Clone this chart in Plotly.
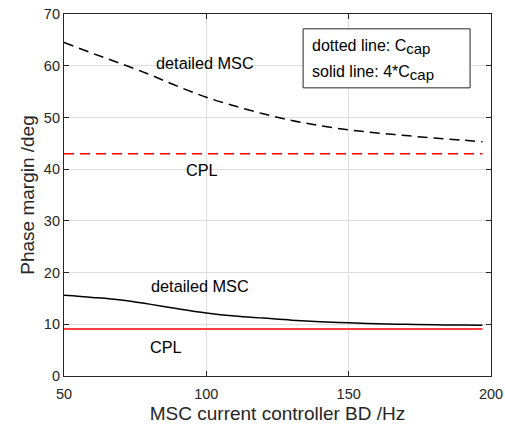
import plotly.graph_objects as go

bd_hz = [50, 60, 70, 80, 90, 100, 110, 120, 130, 140, 150, 160, 170, 180, 190, 197]
pm_detailed_c = [64.5, 62.4, 60.4, 58.3, 56.0, 53.9, 52.2, 50.7, 49.4, 48.4, 47.6, 47.0, 46.5, 46.0, 45.6, 45.3]
pm_cpl_c = [43.0] * len(bd_hz)
pm_detailed_4c = [15.6, 15.2, 14.7, 13.9, 13.0, 12.2, 11.6, 11.2, 10.8, 10.5, 10.3, 10.1, 10.0, 9.9, 9.85, 9.8]
pm_cpl_4c = [9.1] * len(bd_hz)

x_ticks = [50, 100, 150, 200]
y_ticks = [0, 10, 20, 30, 40, 50, 60, 70]

FONT = "Liberation Sans, Arial, sans-serif"
AX = "#262626"

fig = go.Figure()
fig.add_trace(go.Scatter(x=bd_hz, y=pm_detailed_c, mode="lines",
                         line=dict(color="black", width=1.5, dash="10px,6px", shape="spline")))
fig.add_trace(go.Scatter(x=bd_hz, y=pm_cpl_c, mode="lines",
                         line=dict(color="red", width=1.5, dash="10px,6px")))
fig.add_trace(go.Scatter(x=bd_hz, y=pm_detailed_4c, mode="lines",
                         line=dict(color="black", width=1.5, shape="spline")))
fig.add_trace(go.Scatter(x=bd_hz, y=pm_cpl_4c, mode="lines",
                         line=dict(color="red", width=1.5)))

labels = [("detailed MSC", 99.7, 60.5), ("CPL", 98.5, 39.8),
          ("detailed MSC", 97.7, 17.5), ("CPL", 85.7, 5.7)]
for txt, xx, yy in labels:
    fig.add_annotation(x=xx, y=yy, text=txt, showarrow=False,
                       font=dict(family=FONT, size=16.3, color="black"))

SUB = "<sub><span style='font-size:15px'>cap</span></sub>"
fig.add_shape(type="rect", xref="paper", yref="paper", x0=0.56, x1=0.951, y0=0.796, y1=0.959,
              line=dict(color=AX, width=1), fillcolor="white", layer="above")
fig.add_annotation(xref="paper", yref="paper", x=0.576, y=0.91, xanchor="left", yanchor="middle",
                   text="dotted line: C" + SUB, showarrow=False,
                   font=dict(family=FONT, size=16, color="black"))
fig.add_annotation(xref="paper", yref="paper", x=0.576, y=0.838, xanchor="left", yanchor="middle",
                   text="solid line: 4*C" + SUB, showarrow=False,
                   font=dict(family=FONT, size=16, color="black"))

axis_common = dict(showline=True, linecolor=AX, linewidth=1.2, mirror="allticks",
                   ticks="inside", ticklen=5, tickcolor=AX, tickwidth=1,
                   showgrid=True, gridcolor="#dedede", gridwidth=1, zeroline=False,
                   automargin=False,
                   tickfont=dict(family=FONT, size=14.5, color=AX))
fig.update_xaxes(range=[50, 200], tickvals=x_ticks, ticklabelstandoff=4,
                 title=dict(text="MSC current controller BD /Hz", standoff=6,
                            font=dict(family=FONT, size=19, color=AX)), **axis_common)
fig.update_yaxes(range=[0, 70], tickvals=y_ticks,
                 title=dict(text="Phase margin /deg", standoff=4,
                            font=dict(family=FONT, size=19, color=AX)), **axis_common)

fig.update_layout(width=505, height=428, showlegend=False,
                  margin=dict(l=64, r=14, t=14, b=52),
                  plot_bgcolor="white", paper_bgcolor="white")

fig.write_html("out.html")
